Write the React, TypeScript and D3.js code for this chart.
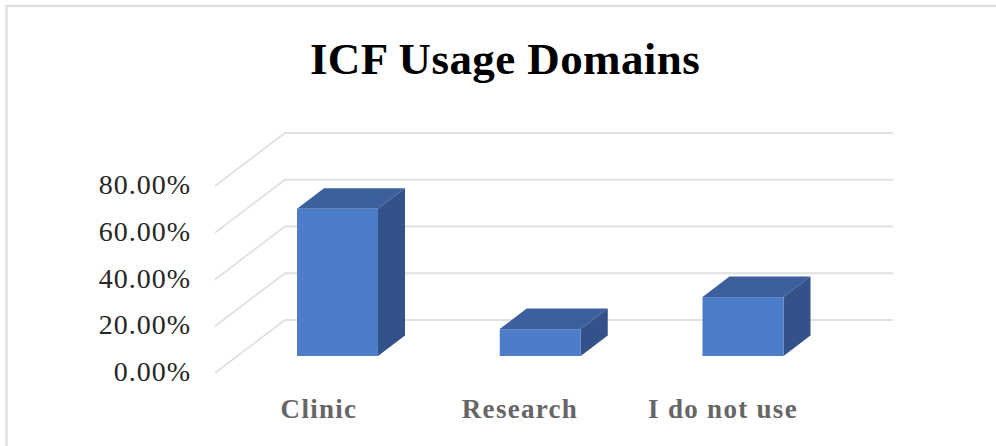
import React from "react";
import * as d3 from "d3";

const title = "ICF Usage Domains";
const categories = ["Clinic", "Research", "I do not use"];
const values = [63, 11.5, 25.2];
const yTicks = [0, 20, 40, 60, 80];

const W = 996, H = 446;
const serif = "'Liberation Serif', 'Times New Roman', serif";

export default function App() {
  // front-plane value scale (axis labels), back-wall offset
  const yFront = d3.scaleLinear().domain([0, 80]).range([373, 186]);
  const wallDx = 70, wallDy = -53;
  const wallRight = 893;
  // bars stand mid-depth
  const barDx = 27, barDy = -20.5;
  const yBar = d3.scaleLinear().domain([0, 80]).range([356, 169]);
  const x = d3.scalePoint<string>().domain(categories).range([337.5, 743]);
  const barW = 81;

  return (
    <svg width={W} height={H} viewBox={`0 0 ${W} ${H}`}
      style={{ position: "absolute", left: 0, top: 0, background: "#fff", display: "block" }}>
      <path d="M6.5 446V6H996" fill="none" stroke="#dfdfdf" strokeWidth={2.5} />
      <text x={505} y={74} textAnchor="middle" fontFamily={serif} fontWeight={700} fontSize={45} fill="#000" letterSpacing={0.4}>{title}</text>

      {yTicks.map((t) => {
        const y0 = yFront(t);
        return (
          <g key={t}>
            <path d={`M${215} ${y0}L${215 + wallDx} ${y0 + wallDy}H${wallRight}`} fill="none" stroke="#e1e1e1" strokeWidth={1.8} />
            <text x={191} y={y0 + 8} textAnchor="end" fontFamily={serif} fontSize={28} fill="#262626" letterSpacing={1}>{t.toFixed(2)}%</text>
          </g>
        );
      })}

      {categories.map((c, i) => {
        const cx = x(c)!;
        const l = cx - barW / 2, r = cx + barW / 2;
        const b = yBar(0), t = yBar(values[i]);
        return (
          <g key={c}>
            <path d={`M${l} ${t}L${l + barDx} ${t + barDy}H${r + barDx}L${r} ${t}Z`} fill="#3c5f9e" />
            <path d={`M${r} ${t}L${r + barDx} ${t + barDy}V${b + barDy}L${r} ${b}Z`} fill="#325289" />
            <rect x={l} y={t} width={barW} height={b - t} fill="#4d7cc9" />
          </g>
        );
      })}

      {categories.map((c, i) => (
        <text key={c} x={[319, 520, 723][i]} y={418} textAnchor="middle" fontFamily={serif} fontWeight={700} fontSize={27} fill="#666" letterSpacing={1.3}>{c}</text>
      ))}
    </svg>
  );
}
